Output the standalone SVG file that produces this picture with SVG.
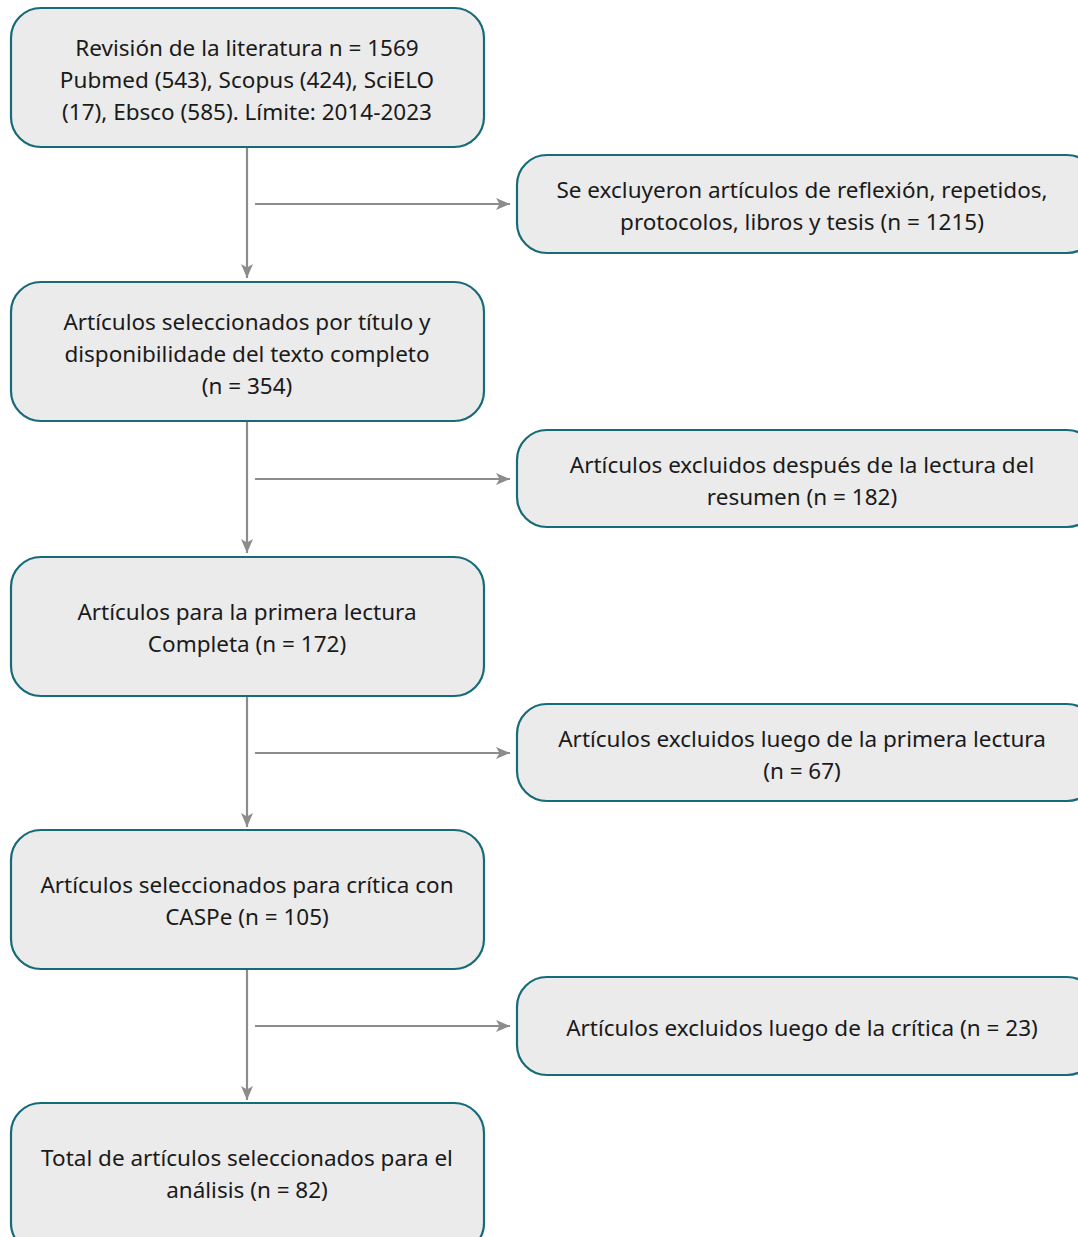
<svg xmlns="http://www.w3.org/2000/svg" width="1078" height="1237" viewBox="0 0 1078 1237">
<style>
.box{fill:#ebebeb;stroke:#156b78;stroke-width:2.2}
.t{font-family:"Noto Sans","Open Sans","Liberation Sans",sans-serif;font-size:22.5px;fill:#1a1a1a;text-anchor:middle}
.c{stroke:#8c8c8c;stroke-width:2.2;fill:none}
</style>
<defs>
<marker id="ah" viewBox="0 0 14 12" refX="14" refY="6" markerWidth="14" markerHeight="12" markerUnits="userSpaceOnUse" orient="auto">
<path d="M0,0 L14,6 L0,12 L3.5,6 Z" fill="#8c8c8c"/>
</marker>
</defs>
<rect width="1078" height="1237" fill="#ffffff"/>
<g id="connectors">
<line class="c" x1="247" y1="148" x2="247" y2="278" marker-end="url(#ah)"/>
<line class="c" x1="255" y1="204" x2="510" y2="204" marker-end="url(#ah)"/>
<line class="c" x1="247" y1="422" x2="247" y2="553" marker-end="url(#ah)"/>
<line class="c" x1="255" y1="479" x2="510" y2="479" marker-end="url(#ah)"/>
<line class="c" x1="247" y1="697" x2="247" y2="827" marker-end="url(#ah)"/>
<line class="c" x1="255" y1="753" x2="510" y2="753" marker-end="url(#ah)"/>
<line class="c" x1="247" y1="970" x2="247" y2="1100" marker-end="url(#ah)"/>
<line class="c" x1="255" y1="1026" x2="510" y2="1026" marker-end="url(#ah)"/>
</g>
<g id="n1"><rect class="box" x="11" y="8" width="473" height="139" rx="30"/>
<text class="t" x="247" y="56">Revisión de la literatura n = 1569</text>
<text class="t" x="247" y="88">Pubmed (543), Scopus (424), SciELO</text>
<text class="t" x="247" y="120">(17), Ebsco (585). Límite: 2014-2023</text></g>
<g id="n2"><rect class="box" x="517" y="155" width="580" height="98" rx="30"/>
<text class="t" x="802" y="198">Se excluyeron artículos de reflexión, repetidos,</text>
<text class="t" x="802" y="230">protocolos, libros y tesis (n = 1215)</text></g>
<g id="n3"><rect class="box" x="11" y="282" width="473" height="139" rx="30"/>
<text class="t" x="247" y="330">Artículos seleccionados por título y</text>
<text class="t" x="247" y="362">disponibilidade del texto completo</text>
<text class="t" x="247" y="394">(n = 354)</text></g>
<g id="n4"><rect class="box" x="517" y="430" width="580" height="97" rx="30"/>
<text class="t" x="802" y="473">Artículos excluidos después de la lectura del</text>
<text class="t" x="802" y="505">resumen (n = 182)</text></g>
<g id="n5"><rect class="box" x="11" y="557" width="473" height="139" rx="30"/>
<text class="t" x="247" y="620">Artículos para la primera lectura</text>
<text class="t" x="247" y="652">Completa (n = 172)</text></g>
<g id="n6"><rect class="box" x="517" y="704" width="580" height="97" rx="30"/>
<text class="t" x="802" y="747">Artículos excluidos luego de la primera lectura</text>
<text class="t" x="802" y="779">(n = 67)</text></g>
<g id="n7"><rect class="box" x="11" y="830" width="473" height="139" rx="30"/>
<text class="t" x="247" y="893">Artículos seleccionados para crítica con</text>
<text class="t" x="247" y="925">CASPe (n = 105)</text></g>
<g id="n8"><rect class="box" x="517" y="977" width="580" height="98" rx="30"/>
<text class="t" x="802" y="1036">Artículos excluidos luego de la crítica (n = 23)</text></g>
<g id="n9"><rect class="box" x="11" y="1103" width="473" height="150" rx="30"/>
<text class="t" x="247" y="1166">Total de artículos seleccionados para el</text>
<text class="t" x="247" y="1198">análisis (n = 82)</text></g>
</svg>
